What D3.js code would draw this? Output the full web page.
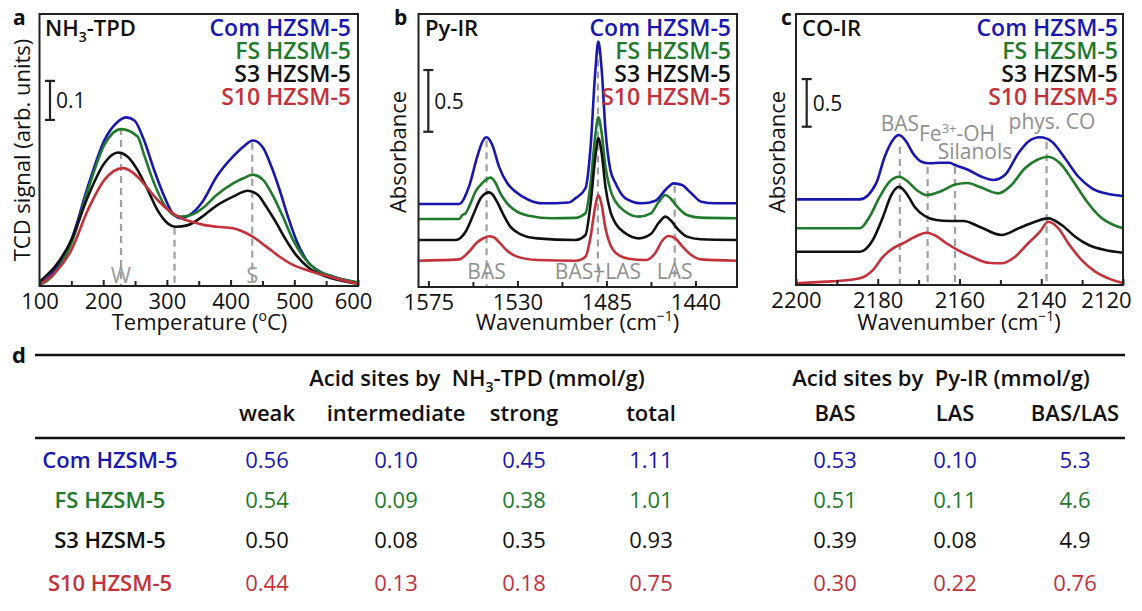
<!DOCTYPE html>
<html><head><meta charset="utf-8">
<script src="https://cdn.jsdelivr.net/npm/d3@7"></script>
<style>body{margin:0;background:#fff} svg{display:block} text{font-family:"Open Sans",sans-serif}</style>
</head><body><svg id="fig" width="1142" height="611"></svg>
<script>
// ---------------- DATA ----------------
const seriesNames = ["Com HZSM-5", "FS HZSM-5", "S3 HZSM-5", "S10 HZSM-5"];

// (a) NH3-TPD : [temperature °C, TCD signal a.u.]
const tpdCom = [[100,0.005],[103,0.008],[124,0.041],[150,0.118],[176,0.255],[202,0.374],[223,0.421],[236,0.432],[249,0.424],[264,0.374],[280,0.297],[296,0.229],[311,0.182],[322,0.174],[340,0.187],[355,0.214],[378,0.280],[404,0.332],[420,0.357],[435,0.373],[451,0.354],[464,0.306],[477,0.246],[490,0.178],[503,0.118],[519,0.067],[540,0.037],[561,0.024],[592,0.011],[600,0.008]];
const tpdFS = [[100,0.003],[103,0.005],[124,0.033],[150,0.109],[176,0.246],[202,0.362],[228,0.402],[254,0.383],[265,0.332],[280,0.263],[296,0.208],[311,0.182],[322,0.178],[338,0.182],[355,0.198],[378,0.233],[404,0.263],[420,0.276],[435,0.285],[451,0.272],[466,0.233],[482,0.178],[498,0.118],[514,0.075],[535,0.041],[561,0.024],[595,0.011],[600,0.010]];
const tpdS3 = [[100,0.010],[103,0.015],[124,0.049],[150,0.118],[176,0.229],[202,0.315],[223,0.342],[238,0.332],[254,0.297],[270,0.246],[285,0.195],[301,0.161],[314,0.152],[333,0.156],[355,0.177],[378,0.206],[404,0.229],[427,0.244],[443,0.233],[456,0.203],[472,0.161],[487,0.118],[503,0.079],[524,0.045],[550,0.024],[592,0.008],[600,0.006]];
const tpdS10 = [[100,0.004],[103,0.007],[124,0.033],[150,0.092],[176,0.195],[202,0.272],[231,0.302],[254,0.280],[270,0.250],[285,0.221],[306,0.190],[322,0.174],[338,0.165],[359,0.156],[378,0.152],[404,0.148],[420,0.139],[435,0.126],[456,0.101],[477,0.075],[498,0.054],[519,0.041],[545,0.028],[571,0.017],[597,0.007],[600,0.006]];

// (b) Py-IR : [wavenumber cm-1, absorbance incl. offset]
const pyCom = [[1580,0.673],[1559.5,0.673],[1554.5,0.813],[1550.3,1.056],[1547.7,1.177],[1545.7,1.213],[1542.7,1.151],[1539.3,0.975],[1535.1,0.840],[1530.9,0.772],[1524.2,0.705],[1517.4,0.678],[1504,0.685],[1500.6,0.720],[1495.6,0.800],[1493.0,1.137],[1490.7,1.732],[1489.1,1.988],[1487.4,1.759],[1485.5,1.272],[1483.0,0.948],[1480.4,0.840],[1475.4,0.719],[1466.9,0.678],[1460.2,0.699],[1455.2,0.786],[1451.0,0.840],[1446.8,0.827],[1442.1,0.759],[1437.1,0.691],[1430,0.678],[1419,0.678]];
const pyFS = [[1580,0.551],[1559.5,0.551],[1557.8,0.583],[1556.2,0.597],[1553.7,0.678],[1551.2,0.772],[1548.6,0.827],[1546.1,0.867],[1543.6,0.886],[1541.1,0.845],[1538.6,0.759],[1535.2,0.678],[1530.2,0.610],[1523.5,0.575],[1513,0.557],[1500.6,0.560],[1495.6,0.597],[1493.0,0.840],[1490.7,1.218],[1489.1,1.375],[1487.4,1.245],[1485.5,0.975],[1483.0,0.786],[1480.4,0.691],[1475.4,0.610],[1468.6,0.570],[1462.6,0.597],[1458.5,0.691],[1455.2,0.746],[1452.7,0.719],[1449.3,0.651],[1444.3,0.583],[1437.6,0.562],[1419,0.557]];
const pyS3 = [[1580,0.381],[1561.2,0.381],[1556.2,0.448],[1552.0,0.597],[1548.6,0.719],[1546.1,0.759],[1544.4,0.767],[1542.8,0.754],[1540.3,0.691],[1537.0,0.583],[1533.6,0.489],[1528.6,0.429],[1520,0.394],[1500.6,0.381],[1495.6,0.421],[1493.0,0.678],[1490.7,1.043],[1489.1,1.205],[1487.4,1.083],[1485.5,0.813],[1483.0,0.610],[1480.4,0.516],[1475.4,0.435],[1468.6,0.394],[1462.6,0.429],[1458.5,0.521],[1455.2,0.570],[1452.7,0.543],[1449.3,0.476],[1444.3,0.408],[1437.6,0.387],[1419,0.381]];
const pyS10 = [[1580,0.213],[1559.5,0.224],[1554.5,0.286],[1550.3,0.362],[1546.9,0.397],[1544.4,0.411],[1542.0,0.403],[1539.5,0.367],[1535.2,0.294],[1530.2,0.246],[1520,0.219],[1500.6,0.213],[1495.6,0.246],[1493.0,0.408],[1490.7,0.651],[1489.1,0.746],[1487.4,0.665],[1485.5,0.476],[1483.0,0.340],[1480.4,0.278],[1473.7,0.229],[1465,0.219],[1460.2,0.278],[1456.8,0.375],[1453.5,0.413],[1450.2,0.394],[1446.8,0.332],[1442.1,0.259],[1437.1,0.224],[1419,0.213]];

// (c) CO-IR : [wavenumber cm-1, absorbance incl. offset]
const coCom = [[2200,0.899],[2184.4,0.899],[2180.4,1.067],[2178.3,1.346],[2176.3,1.522],[2174.8,1.574],[2173.0,1.504],[2171.4,1.382],[2169.3,1.294],[2167.3,1.277],[2164.8,1.283],[2162.4,1.283],[2161.1,1.259],[2157.8,1.207],[2154.6,1.136],[2151.7,1.102],[2148.9,1.154],[2145.6,1.382],[2143.2,1.504],[2140.3,1.550],[2137.4,1.504],[2134.2,1.330],[2130.9,1.136],[2127.6,1.015],[2123.6,0.955],[2120,0.934]];
const coFS = [[2200,0.595],[2184.4,0.595],[2182.0,0.717],[2179.5,0.927],[2177.1,1.084],[2174.8,1.136],[2172.6,1.084],[2170.5,0.997],[2168.1,0.944],[2164.8,0.979],[2161.0,1.054],[2158.0,1.070],[2155.0,1.028],[2150.5,0.962],[2147.3,1.049],[2144.0,1.225],[2140.7,1.319],[2138.3,1.346],[2135.4,1.277],[2132.1,1.084],[2128.8,0.874],[2125.6,0.717],[2122.3,0.630],[2120,0.595]];
const coS3 = [[2200,0.349],[2184.4,0.349],[2181.2,0.472],[2178.7,0.717],[2176.7,0.944],[2174.8,1.031],[2173.0,0.962],[2171.0,0.822],[2168.5,0.724],[2165.7,0.682],[2162.4,0.672],[2159.0,0.672],[2155.0,0.609],[2149.7,0.525],[2145.6,0.594],[2141.5,0.664],[2138.3,0.699],[2135.0,0.630],[2131.7,0.507],[2128.4,0.420],[2124.4,0.367],[2120,0.339]];
const coS10 = [[2200,0.018],[2192.6,0.035],[2188.5,0.047],[2184.4,0.070],[2181.2,0.157],[2178.7,0.297],[2176.3,0.385],[2173.8,0.438],[2170.5,0.514],[2168.1,0.549],[2165.7,0.514],[2163.2,0.438],[2160.4,0.367],[2157.0,0.297],[2153.0,0.234],[2149.7,0.228],[2146.4,0.297],[2143.2,0.438],[2140.3,0.559],[2138.3,0.664],[2135.8,0.595],[2133.4,0.438],[2130.1,0.262],[2126.8,0.140],[2123.6,0.070],[2120,0.021]];

// band markers: position, top value, label
const tpdMarks = [[228,0.405,"W"],[312,0.149,""],[434,0.367,"S"]];
const pyMarks  = [[1545.6,1.19,"BAS"],[1489.3,1.94,"BAS+LAS"],[1450.5,0.82,"LAS"]];
const coMarks  = [[2174.6,1.448,"BAS"],[2167.8,1.238,"Fe"],[2161.1,1.238,"Silanols"],[2138.7,1.50,"phys. CO"]];

// axis ticks
const tpdTicks = [100,200,300,400,500,600], tpdMinor = [150,250,350,450,550];
const pyTicks = [1575,1530,1485,1440], pyMinor = [1552.5,1507.5,1462.5];
const coTicks = [2200,2180,2160,2140,2120], coMinor = [2190,2170,2150,2130];
const scaleBars = [0.1, 0.5, 0.5];

// table
const tableCols = ["weak","intermediate","strong","total","BAS","LAS","BAS/LAS"];
const colWeak   = ["0.56","0.54","0.50","0.44"];
const colInter  = ["0.10","0.09","0.08","0.13"];
const colStrong = ["0.45","0.38","0.35","0.18"];
const colTotal  = ["1.11","1.01","0.93","0.75"];
const colBAS    = ["0.53","0.51","0.39","0.30"];
const colLAS    = ["0.10","0.11","0.08","0.22"];
const colRatio  = ["5.3","4.6","4.9","0.76"];

// ---------------- DRAW ----------------
const colors = ["#1818b0","#1f7a2b","#111111","#c4313b"];
const svg = d3.select("#fig");
svg.append("rect").attr("width",1142).attr("height",611).attr("fill","#fff");

const panels = [
  {id:"a", x0:39.5, x1:358, yT:14, yB:286, dx:[100,600], dy:[0,0.697], series:[tpdCom,tpdFS,tpdS3,tpdS10], marks:tpdMarks,
   ticks:tpdTicks, minor:tpdMinor, lastShift:-5, bar:scaleBars[0], barX:50, barV:0.4256, legX:351, title:"NH", titleX:45, ylab:"TCD signal (arb. units)", ylabX:30, ylabY:150, xlab:"tpd", xlabX:199.5, letterX:13},
  {id:"b", x0:418.5, x1:737, yT:14, yB:287, dx:[1580,1419], dy:[0,2.212], series:[pyCom,pyFS,pyS3,pyS10], marks:pyMarks,
   ticks:pyTicks, minor:pyMinor, lastShift:0, bar:scaleBars[1], barX:428.3, barV:1.258, legX:731, title:"Py-IR", titleX:425, ylab:"Absorbance", ylabX:406, ylabY:152, xlab:"wn", xlabX:577.5, letterX:394},
  {id:"c", x0:796, x1:1123, yT:14, yB:285, dx:[2200,2120], dy:[0,2.844], series:[coCom,coFS,coS3,coS10], marks:coMarks,
   ticks:coTicks, minor:coMinor, lastShift:-17, bar:scaleBars[2], barX:806.7, barV:1.661, legX:1118, title:"CO-IR", titleX:802, ylab:"Absorbance", ylabX:785, ylabY:152, xlab:"wn", xlabX:959, letterX:781}
];

panels.forEach(p => {
  const x = d3.scaleLinear().domain(p.dx).range([p.x0, p.x1]);
  const y = d3.scaleLinear().domain(p.dy).range([p.yB, p.yT]);
  const g = svg.append("g");

  // dashed band markers
  p.marks.forEach(m => {
    g.append("line").attr("x1",x(m[0])).attr("x2",x(m[0])).attr("y1",y(m[1])).attr("y2",p.yB)
      .attr("stroke","#a0a0a0").attr("stroke-width",2.2).attr("stroke-dasharray","7,5");
  });

  // curves
  const line = d3.line().x(d=>x(d[0])).y(d=>y(d[1])).curve(d3.curveMonotoneX);
  p.series.forEach((s,i) => {
    g.append("path").datum(s).attr("d",line).attr("fill","none").attr("stroke",colors[i])
      .attr("stroke-width",2.6).attr("stroke-linejoin","round");
  });

  // marker labels
  const lab = (tx,ty,txt,anchor) => g.append("text").attr("x",tx).attr("y",ty).attr("text-anchor",anchor||"middle")
      .attr("font-size",21).attr("fill","#8f8f8f").text(txt);
  if (p.id==="a") { p.marks.forEach(m => { if (m[2]) lab(x(m[0]), 283, m[2]).attr("font-size",22).attr("fill","#9a9a9a"); }); }
  if (p.id==="b") { p.marks.forEach(m => lab(x(m[0]), 279, m[2])); }
  if (p.id==="c") {
    lab(x(p.marks[0][0]), 131, p.marks[0][2]);
    const fe = g.append("text").attr("x",919).attr("y",141).attr("font-size",21).attr("fill","#8f8f8f");
    fe.append("tspan").text("Fe");
    fe.append("tspan").attr("font-size",13).attr("dy",-8).text("3+");
    fe.append("tspan").attr("dy",8).text("-OH");
    lab(975, 159, p.marks[2][2]);
    lab(1052, 129, p.marks[3][2]);
  }

  // frame
  g.append("rect").attr("x",p.x0).attr("y",p.yT).attr("width",p.x1-p.x0).attr("height",p.yB-p.yT)
    .attr("fill","none").attr("stroke","#222").attr("stroke-width",2);

  // axes
  const ax = d3.axisBottom(x).tickValues(p.ticks).tickSize(-6).tickPadding(7).tickFormat(d3.format("d"));
  const ag = g.append("g").attr("transform",`translate(0,${p.yB})`).call(ax);
  ag.select(".domain").remove();
  ag.selectAll("line").attr("stroke","#222").attr("stroke-width",2);
  ag.selectAll("text").attr("font-size",22).attr("fill","#111").style("font-family","Open Sans");
  ag.selectAll("text").filter((d,i,n)=>i===n.length-1).attr("dx",p.lastShift);
  const am = d3.axisBottom(x).tickValues(p.minor).tickSize(-5).tickFormat("");
  const mg = g.append("g").attr("transform",`translate(0,${p.yB})`).call(am);
  mg.select(".domain").remove();
  mg.selectAll("text").remove();
  mg.selectAll("line").attr("stroke","#222").attr("stroke-width",2);

  // x label
  const xl = g.append("text").attr("x",p.xlabX).attr("y",330).attr("text-anchor","middle").attr("font-size",22).attr("fill","#111");
  if (p.xlab==="tpd") {
    xl.append("tspan").text("Temperature (");
    xl.append("tspan").attr("font-size",14).attr("dy",-9).text("o");
    xl.append("tspan").attr("dy",9).text("C)");
  } else {
    xl.append("tspan").text("Wavenumber (cm");
    xl.append("tspan").attr("font-size",14).attr("dy",-9).text("\u22121");
    xl.append("tspan").attr("dy",9).text(")");
  }
  // y label
  g.append("text").attr("transform",`translate(${p.ylabX},${p.ylabY}) rotate(-90)`).attr("text-anchor","middle")
    .attr("font-size",22).attr("fill","#111").text(p.ylab);

  // panel letter + title
  g.append("text").attr("x",p.letterX).attr("y",25).attr("font-size",21).attr("font-weight",700).attr("fill","#111").text(p.id);
  const tt = g.append("text").attr("x",p.titleX).attr("y",36).attr("font-size",22).attr("font-weight",600).attr("fill","#111");
  if (p.id==="a") {
    tt.append("tspan").text("NH");
    tt.append("tspan").attr("font-size",14).attr("dy",6).text("3");
    tt.append("tspan").attr("dy",-6).text("-TPD");
  } else tt.text(p.title);

  // legend
  seriesNames.forEach((n,i) => {
    g.append("text").attr("x",p.legX).attr("y",36+i*23).attr("text-anchor","end").attr("font-size",23)
      .attr("font-weight",600).attr("fill",colors[i]).text(n);
  });

  // scale bar
  const yb0 = y(p.barV), yb1 = y(p.barV + p.bar);
  g.append("line").attr("x1",p.barX).attr("x2",p.barX).attr("y1",yb0).attr("y2",yb1).attr("stroke","#222").attr("stroke-width",2.2);
  [yb0,yb1].forEach(v => g.append("line").attr("x1",p.barX-5).attr("x2",p.barX+5).attr("y1",v).attr("y2",v).attr("stroke","#222").attr("stroke-width",2.2));
  g.append("text").attr("x",p.barX+6).attr("y",(yb0+yb1)/2+8).attr("font-size",21).attr("fill","#111").text(String(p.bar));
});

// ---------------- TABLE ----------------
const tg = svg.append("g");
tg.append("text").attr("x",12).attr("y",363).attr("font-size",22).attr("font-weight",700).attr("fill","#111").text("d");
tg.append("line").attr("x1",35).attr("x2",1125).attr("y1",355).attr("y2",355).attr("stroke","#111").attr("stroke-width",2.5);
tg.append("line").attr("x1",35).attr("x2",1125).attr("y1",438).attr("y2",438).attr("stroke","#111").attr("stroke-width",2.5);

const h1 = tg.append("text").attr("x",477).attr("y",386).attr("text-anchor","middle").attr("font-size",22).attr("font-weight",600).attr("fill","#111");
h1.append("tspan").text("Acid sites by\u00a0\u00a0NH");
h1.append("tspan").attr("font-size",14).attr("dy",6).text("3");
h1.append("tspan").attr("dy",-6).text("-TPD (mmol/g)");
tg.append("text").attr("x",941).attr("y",386).attr("text-anchor","middle").attr("font-size",22).attr("font-weight",600).attr("fill","#111")
  .text("Acid sites by\u00a0\u00a0Py-IR (mmol/g)");

const colX = [267, 396, 524, 651, 835, 955, 1075];
tableCols.forEach((c,j) => {
  tg.append("text").attr("x",colX[j]).attr("y",421).attr("text-anchor","middle").attr("font-size",22).attr("font-weight",600).attr("fill","#111").text(c);
});
const cols = [colWeak,colInter,colStrong,colTotal,colBAS,colLAS,colRatio];
const rowY = [468, 508, 548, 591];
seriesNames.forEach((n,i) => {
  tg.append("text").attr("x",110).attr("y",rowY[i]).attr("text-anchor","middle").attr("font-size",22).attr("font-weight",600).attr("fill",colors[i]).text(n);
  cols.forEach((col,j) => {
    tg.append("text").attr("x",colX[j]).attr("y",rowY[i]).attr("text-anchor","middle").attr("font-size",22).attr("fill",colors[i]).text(col[i]);
  });
});
</script></body></html>
